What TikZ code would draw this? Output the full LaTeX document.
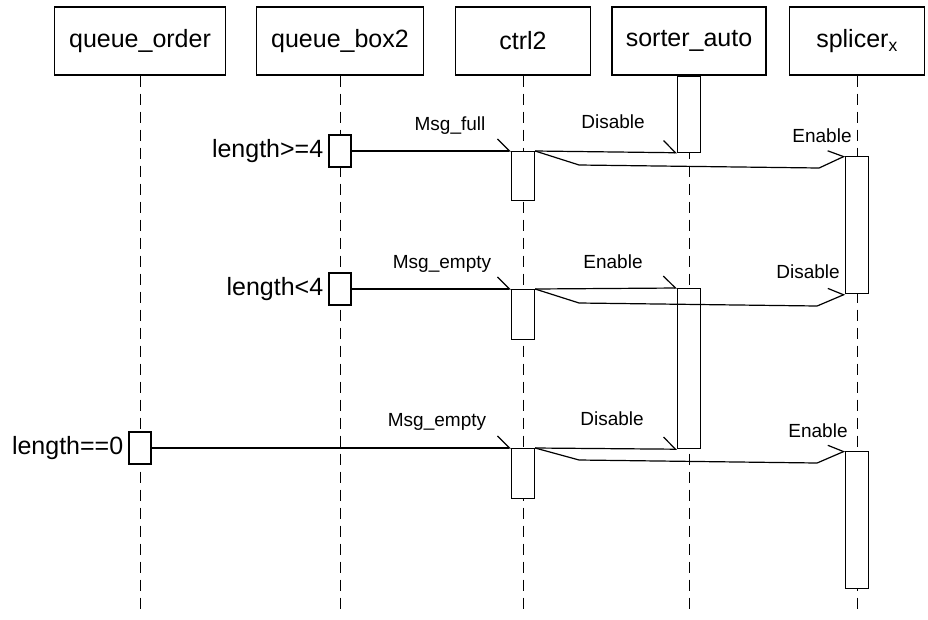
\documentclass[tikz,border=0pt]{standalone}
\usepackage{fontspec}
\setmainfont{Liberation Sans}
\usetikzlibrary{arrows.meta,positioning}

\begin{document}
\begin{tikzpicture}[
        x=1pt, y=-1pt,
        actor/.style={
                draw,
                line width=1.1pt,
                minimum height=68pt,
                inner sep=0pt,
                font=\fontsize{25}{30}\selectfont
            },
        lifeline/.style={line width=1pt, dash pattern=on 11pt off 7pt},
        activ/.style={draw, fill=white, line width=1.2pt, minimum width=23pt, inner sep=0pt},
        cond/.style={draw, fill=white, line width=1.1pt, minimum width=22pt, minimum height=32pt, inner sep=0pt},
        condtxt/.style={inner sep=0pt, font=\fontsize{25}{30}\selectfont},
        msgtxt/.style={inner sep=0pt, anchor=base, font=\fontsize{19}{23}\selectfont},
        msg/.style={line width=1.2pt, -{Straight Barb[harpoon, length=12pt, width=24pt]}},
    ]

    \useasboundingbox (0,0) rectangle (928,619);

    % Participants
    \node[actor, minimum width=171pt] (qorder) at (140,41) {queue\_order};
    \node[actor, minimum width=167pt] (qbox) at (340,41) {queue\_box2};
    \node[actor, minimum width=135pt] (ctrl) at (523,41) {ctrl2};
    \node[actor, minimum width=154pt] (sorter) at (689,41) {sorter\_auto};
    \node[actor, minimum width=135pt] (splicer) at (857,41) {splicer\textsubscript{x}};

    % Lifelines
    \foreach \p in {qorder,qbox,ctrl,sorter,splicer}
        \draw[lifeline] (\p.south) -- (\p.south |- 0,615);

    % Activations
    \node[activ, anchor=north, minimum height=76pt] (sorterA) at (sorter.south) {};
    \node[activ, anchor=north, minimum height=160pt] (sorterB) at (sorter.south |- 0,288) {};
    \node[activ, anchor=north, minimum height=49pt] (ctrlA) at (ctrl.south |- 0,151) {};
    \node[activ, anchor=north, minimum height=50pt] (ctrlB) at (ctrl.south |- 0,289) {};
    \node[activ, anchor=north, minimum height=50pt] (ctrlC) at (ctrl.south |- 0,448) {};
    \node[activ, anchor=north, minimum height=137pt] (splA) at (splicer.south |- 0,156) {};
    \node[activ, anchor=north, minimum height=137pt] (splB) at (splicer.south |- 0,451) {};

    % Queue conditions
    \node[cond] (condA) at (qbox.south |- 0,151) {};
    \node[condtxt, left=5pt of condA] (condAtxt) {length>=4};
    \node[cond] (condB) at (qbox.south |- 0,289) {};
    \node[condtxt, left=5pt of condB] (condBtxt) {length<4};
    \node[cond] (condC) at (qorder.south |- 0,448) {};
    \node[condtxt, left=5pt of condC] (condCtxt) {length==0};

    % Queue full
    \draw[msg] (condA.east) -- (ctrlA.north west);
    \node[msgtxt] at (450,130) {Msg\_full};
    \draw[msg] (ctrlA.north east) -- (sorterA.south west);
    \node[msgtxt] at (613,128) {Disable};
    \draw[msg] (ctrlA.north east) -- ++(44,14) -- ++(240,3) -- (splA.north west);
    \node[msgtxt] at (822,142) {Enable};

    % Queue below limit
    \draw[msg] (condB.east) -- (ctrlB.north west);
    \node[msgtxt] at (442,268) {Msg\_empty};
    \draw[msg] (ctrlB.north east) -- (sorterB.north west);
    \node[msgtxt] at (613,268) {Enable};
    \draw[msg] (ctrlB.north east) -- ++(44,14) -- ++(238,3) -- (splA.south west);
    \node[msgtxt] at (808,278) {Disable};

    % Queue empty
    \draw[msg] (condC.east) -- (ctrlC.north west);
    \node[msgtxt] at (437,426) {Msg\_empty};
    \draw[msg] (ctrlC.north east) -- (sorterB.south west);
    \node[msgtxt] at (612,425) {Disable};
    \draw[msg] (ctrlC.north east) -- ++(44,12) -- ++(238,3) -- (splB.north west);
    \node[msgtxt] at (818,437) {Enable};

\end{tikzpicture}
\end{document}
